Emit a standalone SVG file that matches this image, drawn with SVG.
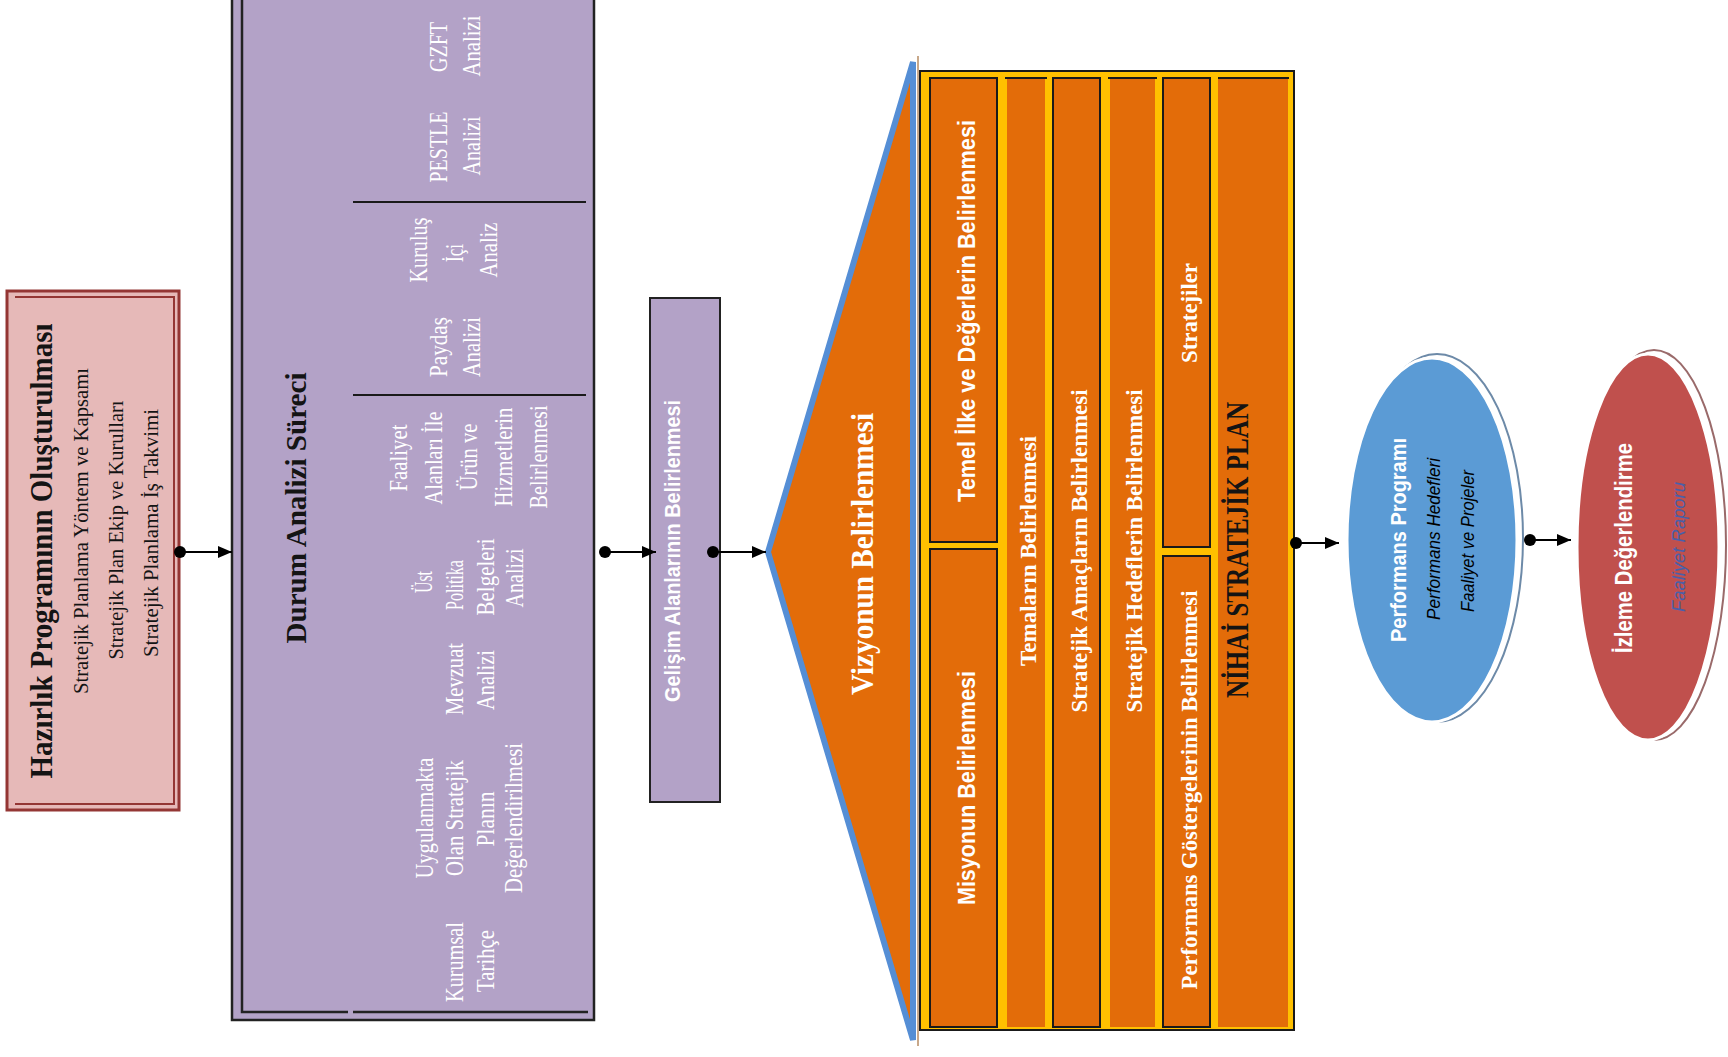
<svg xmlns="http://www.w3.org/2000/svg" width="1728" height="1057" viewBox="0 0 1728 1057">
<defs>
<style>
.ttl{font-family:"Liberation Serif",serif;font-weight:bold;fill:#141414}
.sub{font-family:"Liberation Serif",serif;font-size:21px;fill:#141414}
.itm{font-family:"Liberation Serif",serif;font-size:26px;fill:#ffffff}
.wsb{font-family:"Liberation Sans",sans-serif;font-weight:bold;fill:#ffffff}
.wsf{font-family:"Liberation Serif",serif;font-weight:bold;fill:#ffffff}
.ital{font-family:"Liberation Sans",sans-serif;font-style:italic;font-size:18px}
.frame{fill:none;stroke:#222;stroke-width:2.5}
.col{fill:#E36C09}
.colb{fill:#E36C09;stroke:#1a1a1a;stroke-width:2}
.blk{stroke:#1a1a1a;stroke-width:2}
.conn{stroke:#000;stroke-width:2;fill:none}
</style>
<marker id="dot" markerUnits="userSpaceOnUse" markerWidth="14" markerHeight="14" refX="7" refY="7" orient="auto">
<circle cx="7" cy="7" r="6" fill="#000"/>
</marker>
<marker id="arr" markerUnits="userSpaceOnUse" markerWidth="14" markerHeight="12" refX="14" refY="6" orient="auto">
<path d="M0,0 L14,6 L0,12 Z" fill="#000"/>
</marker>
</defs>
<rect width="1728" height="1057" fill="#ffffff"/>

<g id="hazirlik">
<rect x="7" y="291" width="172" height="519" fill="#E6B9B8" stroke="#943634" stroke-width="3"/>
<path d="M15,297 H174 V804 H15" fill="none" stroke="#943634" stroke-width="2"/>
<text class="ttl" font-size="32" transform="translate(52,551) rotate(-90)" text-anchor="middle" textLength="455" lengthAdjust="spacingAndGlyphs">Hazırlık Programının Oluşturulması</text>
<text class="sub" transform="translate(88,531) rotate(-90)" text-anchor="middle" textLength="326" lengthAdjust="spacingAndGlyphs">Stratejik Planlama Yöntem ve Kapsamı</text>
<text class="sub" transform="translate(123,530) rotate(-90)" text-anchor="middle" textLength="259" lengthAdjust="spacingAndGlyphs">Stratejik Plan Ekip ve Kurulları</text>
<text class="sub" transform="translate(158,533) rotate(-90)" text-anchor="middle" textLength="248" lengthAdjust="spacingAndGlyphs">Stratejik Planlama İş Takvimi</text>
</g>

<g id="durum">
<rect x="232" y="-5" width="362" height="1025" fill="#B3A2C7" stroke="#222" stroke-width="2.5"/>
<path d="M242,-5 V1012 H348 M353,1012 H588" class="frame"/>
<line x1="353" y1="202" x2="586" y2="202" class="blk"/>
<line x1="353" y1="395" x2="586" y2="395" class="blk"/>
<text class="ttl" font-size="30" transform="translate(306,508) rotate(-90)" text-anchor="middle" textLength="271" lengthAdjust="spacingAndGlyphs">Durum Analizi Süreci</text>
<g text-anchor="middle" class="itm">
<text transform="translate(447,47) rotate(-90)" textLength="50" lengthAdjust="spacingAndGlyphs">GZFT</text>
<text transform="translate(480,46) rotate(-90)" textLength="61" lengthAdjust="spacingAndGlyphs">Analizi</text>
<text transform="translate(447,147) rotate(-90)" textLength="71" lengthAdjust="spacingAndGlyphs">PESTLE</text>
<text transform="translate(480,146) rotate(-90)" textLength="59" lengthAdjust="spacingAndGlyphs">Analizi</text>
<text transform="translate(427,250) rotate(-90)" textLength="65" lengthAdjust="spacingAndGlyphs">Kuruluş</text>
<text transform="translate(463,253) rotate(-90)" textLength="18" lengthAdjust="spacingAndGlyphs">İçi</text>
<text transform="translate(497,250) rotate(-90)" textLength="55" lengthAdjust="spacingAndGlyphs">Analiz</text>
<text transform="translate(447,347) rotate(-90)" textLength="60" lengthAdjust="spacingAndGlyphs">Paydaş</text>
<text transform="translate(480,347) rotate(-90)" textLength="60" lengthAdjust="spacingAndGlyphs">Analizi</text>
<text transform="translate(407,458) rotate(-90)" textLength="67" lengthAdjust="spacingAndGlyphs">Faaliyet</text>
<text transform="translate(442,458) rotate(-90)" textLength="93" lengthAdjust="spacingAndGlyphs">Alanları İle</text>
<text transform="translate(477,457) rotate(-90)" textLength="67" lengthAdjust="spacingAndGlyphs">Ürün ve</text>
<text transform="translate(512,457) rotate(-90)" textLength="99" lengthAdjust="spacingAndGlyphs">Hizmetlerin</text>
<text transform="translate(547,457) rotate(-90)" textLength="103" lengthAdjust="spacingAndGlyphs">Belirlenmesi</text>
<text transform="translate(432,582) rotate(-90)" textLength="22" lengthAdjust="spacingAndGlyphs">Üst</text>
<text transform="translate(463,585) rotate(-90)" textLength="50" lengthAdjust="spacingAndGlyphs">Politika</text>
<text transform="translate(494,577) rotate(-90)" textLength="77" lengthAdjust="spacingAndGlyphs">Belgeleri</text>
<text transform="translate(523,578) rotate(-90)" textLength="59" lengthAdjust="spacingAndGlyphs">Analizi</text>
<text transform="translate(463,679) rotate(-90)" textLength="72" lengthAdjust="spacingAndGlyphs">Mevzuat</text>
<text transform="translate(494,680) rotate(-90)" textLength="60" lengthAdjust="spacingAndGlyphs">Analizi</text>
<text transform="translate(433,818) rotate(-90)" textLength="121" lengthAdjust="spacingAndGlyphs">Uygulanmakta</text>
<text transform="translate(463,818) rotate(-90)" textLength="116" lengthAdjust="spacingAndGlyphs">Olan Stratejik</text>
<text transform="translate(494,819) rotate(-90)" textLength="55" lengthAdjust="spacingAndGlyphs">Planın</text>
<text transform="translate(522,818) rotate(-90)" textLength="150" lengthAdjust="spacingAndGlyphs">Değerlendirilmesi</text>
<text transform="translate(463,962) rotate(-90)" textLength="80" lengthAdjust="spacingAndGlyphs">Kurumsal</text>
<text transform="translate(494,961) rotate(-90)" textLength="62" lengthAdjust="spacingAndGlyphs">Tarihçe</text>
</g>
</g>

<g id="gelisim">
<rect x="650" y="298" width="70" height="504" fill="#B3A2C7" stroke="#222" stroke-width="2"/>
<text class="wsb" font-size="22" font-weight="normal" transform="translate(680,551) rotate(-90)" text-anchor="middle" textLength="302" lengthAdjust="spacingAndGlyphs">Gelişim Alanlarının Belirlenmesi</text>
</g>

<g id="vizyon">
<line x1="918" y1="56" x2="918" y2="1046" stroke="#C8A88A" stroke-width="2"/>
<polygon points="768,552 913,62 913,1040" fill="#E36C09" stroke="#558ED5" stroke-width="6" stroke-linejoin="miter"/>
<text class="wsf" font-size="32" transform="translate(873,554) rotate(-90)" text-anchor="middle" textLength="282" lengthAdjust="spacingAndGlyphs">Vizyonun Belirlenmesi</text>
</g>

<g id="plan">
<rect x="920" y="71" width="374" height="959" fill="#FFC000" stroke="#1a1a1a" stroke-width="2"/>
<rect x="930" y="78" width="67" height="464" class="colb"/>
<rect x="930" y="549" width="67" height="478" class="colb"/>
<rect x="1007" y="78" width="38" height="949" class="col"/>
<line x1="1005" y1="78" x2="1047" y2="78" class="blk"/>
<rect x="1053" y="78" width="47" height="949" class="colb"/>
<rect x="1110" y="78" width="45" height="949" class="col"/>
<line x1="1108" y1="78" x2="1157" y2="78" class="blk"/>
<rect x="1163" y="78" width="47" height="469" class="colb"/>
<rect x="1163" y="556" width="47" height="471" class="colb"/>
<rect x="1218" y="78" width="70" height="949" class="col"/>
<line x1="1218" y1="78" x2="1289" y2="78" class="blk"/>
<text class="wsb" font-size="24" transform="translate(975,311) rotate(-90)" text-anchor="middle" textLength="382" lengthAdjust="spacingAndGlyphs">Temel İlke ve Değerlerin Belirlenmesi</text>
<text class="wsb" font-size="24" transform="translate(975,788) rotate(-90)" text-anchor="middle" textLength="234" lengthAdjust="spacingAndGlyphs">Misyonun Belirlenmesi</text>
<text class="wsf" font-size="24" transform="translate(1036,551) rotate(-90)" text-anchor="middle" textLength="230" lengthAdjust="spacingAndGlyphs">Temaların Belirlenmesi</text>
<text class="wsf" font-size="24" transform="translate(1087,551) rotate(-90)" text-anchor="middle" textLength="323" lengthAdjust="spacingAndGlyphs">Stratejik Amaçların Belirlenmesi</text>
<text class="wsf" font-size="24" transform="translate(1142,551) rotate(-90)" text-anchor="middle" textLength="323" lengthAdjust="spacingAndGlyphs">Stratejik Hedeflerin Belirlenmesi</text>
<text class="wsf" font-size="24" transform="translate(1197,313) rotate(-90)" text-anchor="middle" textLength="100" lengthAdjust="spacingAndGlyphs">Stratejiler</text>
<text class="wsf" font-size="24" transform="translate(1197,790) rotate(-90)" text-anchor="middle" textLength="399" lengthAdjust="spacingAndGlyphs">Performans Göstergelerinin Belirlenmesi</text>
<text class="ttl" font-size="32" font-weight="normal" transform="translate(1248,550) rotate(-90)" text-anchor="middle" textLength="296" lengthAdjust="spacingAndGlyphs">NİHAİ STRATEJİK PLAN</text>
</g>

<g id="performans">
<ellipse cx="1437" cy="538" rx="86" ry="184" fill="#ffffff" stroke="#6D8AA8" stroke-width="2"/>
<ellipse cx="1432" cy="540" rx="85" ry="182" fill="#5B9BD5" stroke="#ffffff" stroke-width="3"/>
<text class="wsb" font-size="22" transform="translate(1406,540) rotate(-90)" text-anchor="middle" textLength="204" lengthAdjust="spacingAndGlyphs">Performans Programı</text>
<text class="ital" fill="#000" transform="translate(1440,539) rotate(-90)" text-anchor="middle" textLength="162" lengthAdjust="spacingAndGlyphs">Performans Hedefleri</text>
<text class="ital" fill="#000" transform="translate(1474,541) rotate(-90)" text-anchor="middle" textLength="142" lengthAdjust="spacingAndGlyphs">Faaliyet ve Projeler</text>
</g>

<g id="izleme">
<ellipse cx="1654" cy="545" rx="72" ry="195" fill="#ffffff" stroke="#9A6A6A" stroke-width="2"/>
<ellipse cx="1648" cy="547" rx="71" ry="193" fill="#C0504D" stroke="#ffffff" stroke-width="3"/>
<text class="wsb" font-size="24" transform="translate(1632,548) rotate(-90)" text-anchor="middle" textLength="210" lengthAdjust="spacingAndGlyphs">İzleme Değerlendirme</text>
<text class="ital" fill="#4A5FA8" transform="translate(1685,547) rotate(-90)" text-anchor="middle" textLength="130" lengthAdjust="spacingAndGlyphs">Faaliyet Raporu</text>
</g>

<g id="connectors">
<line x1="180" y1="552" x2="232" y2="552" class="conn" marker-start="url(#dot)" marker-end="url(#arr)"/>
<line x1="605" y1="552" x2="656" y2="552" class="conn" marker-start="url(#dot)" marker-end="url(#arr)"/>
<line x1="713" y1="552" x2="766" y2="552" class="conn" marker-start="url(#dot)" marker-end="url(#arr)"/>
<line x1="1296" y1="543" x2="1339" y2="543" class="conn" marker-start="url(#dot)" marker-end="url(#arr)"/>
<line x1="1530" y1="540" x2="1571" y2="540" class="conn" marker-start="url(#dot)" marker-end="url(#arr)"/>
</g>
</svg>
